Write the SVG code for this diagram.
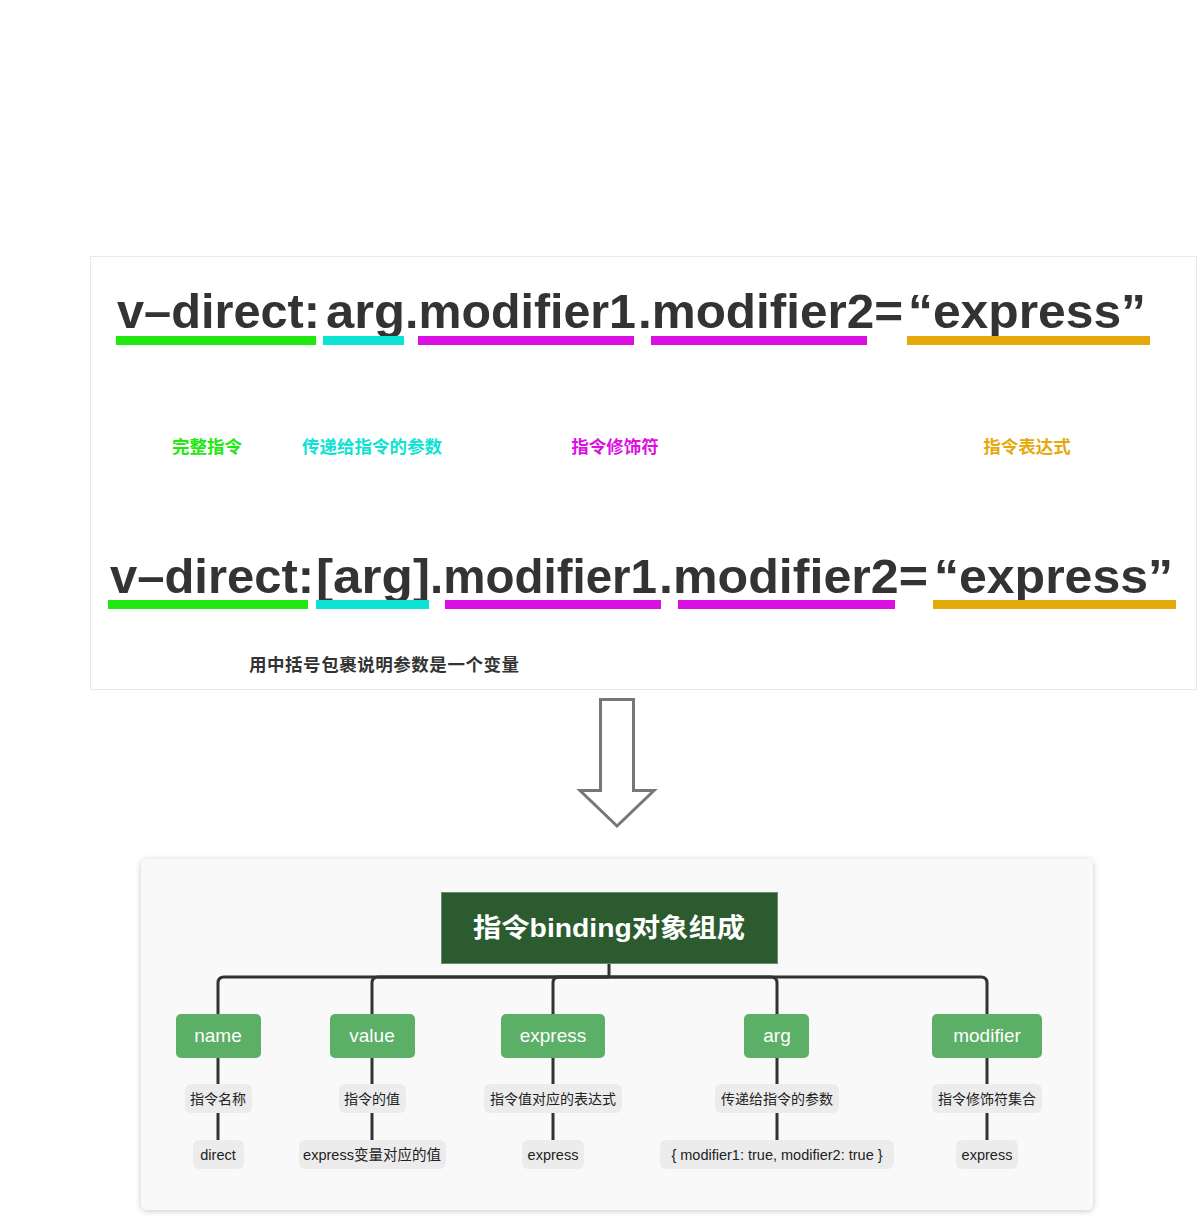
<svg xmlns="http://www.w3.org/2000/svg" width="1197" height="1228" viewBox="0 0 1197 1228">
<defs>
<style>
.code{font-family:"Liberation Sans","Noto Sans CJK SC",sans-serif;font-size:49px;font-weight:bold;fill:#333333;}
.lbl{font-family:"Liberation Sans","Noto Sans CJK SC",sans-serif;font-size:17.5px;font-weight:bold;text-anchor:middle;}
.g{fill:#22e812;}.c{fill:#0de3d3;}.m{fill:#da0fe3;}.o{fill:#e6a90c;}
.note{font-family:"Liberation Sans","Noto Sans CJK SC",sans-serif;font-size:17.5px;font-weight:bold;fill:#333333;}
.conn{fill:none;stroke:#333333;stroke-width:3;}
.child rect{fill:#5caf67;}
.child text{font-family:"Liberation Sans","Noto Sans CJK SC",sans-serif;font-size:19px;fill:#ffffff;text-anchor:middle;}
.tag rect{fill:#ececec;}
.tag text{font-family:"Liberation Sans","Noto Sans CJK SC",sans-serif;font-size:14px;fill:#222222;text-anchor:middle;}
.tag text.lat{font-size:14.5px;}
</style>
<filter id="sh" x="-5%" y="-5%" width="110%" height="115%">
<feDropShadow dx="0" dy="1" stdDeviation="3" flood-color="#000" flood-opacity="0.22"/>
</filter>
</defs>
<rect width="1197" height="1228" fill="#ffffff"/>

<!-- top panel -->
<rect x="90.5" y="256.5" width="1106" height="433" fill="#ffffff" stroke="#e9e9e9" stroke-width="1"/>

<g id="line1">
<text class="code" x="117" y="328" textLength="203" lengthAdjust="spacingAndGlyphs">v–direct:</text>
<text class="code" x="326" y="328" textLength="79" lengthAdjust="spacingAndGlyphs">arg</text>
<text class="code" x="405" y="328" textLength="231" lengthAdjust="spacingAndGlyphs">.modifier1</text>
<text class="code" x="638" y="328" textLength="265" lengthAdjust="spacingAndGlyphs">.modifier2=</text>
<text class="code" x="908" y="328" textLength="238" lengthAdjust="spacingAndGlyphs">“express”</text>
<rect class="g" x="116" y="336" width="200" height="9"/>
<rect class="c" x="323" y="336" width="81" height="9"/>
<rect class="m" x="418" y="336" width="216" height="9"/>
<rect class="m" x="651" y="336" width="216" height="9"/>
<rect class="o" x="907" y="336" width="243" height="9"/>
</g>

<g id="labels">
<text class="lbl g" x="207" y="453">完整指令</text>
<text class="lbl c" x="372" y="453">传递给指令的参数</text>
<text class="lbl m" x="615" y="453">指令修饰符</text>
<text class="lbl o" x="1027" y="453">指令表达式</text>
</g>

<g id="line2">
<text class="code" x="110" y="593" textLength="204" lengthAdjust="spacingAndGlyphs">v–direct:</text>
<text class="code" x="316" y="593" textLength="114" lengthAdjust="spacingAndGlyphs">[arg]</text>
<text class="code" x="430" y="593" textLength="227" lengthAdjust="spacingAndGlyphs">.modifier1</text>
<text class="code" x="659" y="593" textLength="269" lengthAdjust="spacingAndGlyphs">.modifier2=</text>
<text class="code" x="934" y="593" textLength="239" lengthAdjust="spacingAndGlyphs">“express”</text>
<rect class="g" x="108" y="600" width="200" height="9"/>
<rect class="c" x="316" y="600" width="113" height="9"/>
<rect class="m" x="445" y="600" width="216" height="9"/>
<rect class="m" x="678" y="600" width="217" height="9"/>
<rect class="o" x="933" y="600" width="243" height="9"/>
<text class="note" x="249" y="671" textLength="270" lengthAdjust="spacing">用中括号包裹说明参数是一个变量</text>
</g>

<!-- arrow -->
<g id="arrow">
<path d="M600.5,699.5 H633.5 V790.5 H654 L617,826 L580,790.5 H600.5 Z" fill="#ffffff" stroke="#777777" stroke-width="3" stroke-linejoin="miter"/>
</g>

<!-- bottom panel -->
<rect x="141" y="859" width="952" height="351" rx="6" fill="#f9f9f9" filter="url(#sh)"/>

<g id="connectors">
<path class="conn" d="M609,963 V977"/>
<path class="conn" d="M609,977 H224 Q218,977 218,983 V1014"/>
<path class="conn" d="M609,977 H378 Q372,977 372,983 V1014"/>
<path class="conn" d="M609,977 H559 Q553,977 553,983 V1014"/>
<path class="conn" d="M609,977 H771 Q777,977 777,983 V1014"/>
<path class="conn" d="M609,977 H981 Q987,977 987,983 V1014"/>
<path class="conn" d="M218,1058 V1084 M218,1113 V1140"/>
<path class="conn" d="M372,1058 V1084 M372,1113 V1140"/>
<path class="conn" d="M553,1058 V1084 M553,1113 V1140"/>
<path class="conn" d="M777,1058 V1084 M777,1113 V1140"/>
<path class="conn" d="M987,1058 V1084 M987,1113 V1140"/>
</g>

<g id="root">
<rect x="441.5" y="892.5" width="336" height="71" fill="#2c5b2f" stroke="#6e8a70" stroke-width="1"/>
<text x="473" y="937" font-family="'Liberation Sans','Noto Sans CJK SC',sans-serif" font-size="26.5" font-weight="bold" fill="#ffffff" textLength="272" lengthAdjust="spacingAndGlyphs">指令binding对象组成</text>
</g>

<g id="n-name" class="child"><rect x="176" y="1014" width="85" height="44" rx="5"/><text x="218" y="1042">name</text></g>
<g id="n-value" class="child"><rect x="330" y="1014" width="85" height="44" rx="5"/><text x="372" y="1042">value</text></g>
<g id="n-express" class="child"><rect x="501" y="1014" width="104" height="44" rx="5"/><text x="553" y="1042">express</text></g>
<g id="n-arg" class="child"><rect x="744" y="1014" width="65" height="44" rx="5"/><text x="777" y="1042">arg</text></g>
<g id="n-modifier" class="child"><rect x="932" y="1014" width="110" height="44" rx="5"/><text x="987" y="1042">modifier</text></g>

<g id="t-name" class="tag"><rect x="185" y="1084" width="67" height="29" rx="6"/><text x="218" y="1103.5">指令名称</text></g>
<g id="t-value" class="tag"><rect x="339" y="1084" width="67" height="29" rx="6"/><text x="372" y="1103.5">指令的值</text></g>
<g id="t-express" class="tag"><rect x="484" y="1084" width="138" height="29" rx="6"/><text x="553" y="1103.5">指令值对应的表达式</text></g>
<g id="t-arg" class="tag"><rect x="715" y="1084" width="124" height="29" rx="6"/><text x="777" y="1103.5">传递给指令的参数</text></g>
<g id="t-modifier" class="tag"><rect x="932" y="1084" width="110" height="29" rx="6"/><text x="987" y="1103.5">指令修饰符集合</text></g>

<g id="l-name" class="tag"><rect x="193" y="1140" width="51" height="29" rx="6"/><text class="lat" x="218" y="1160">direct</text></g>
<g id="l-value" class="tag"><rect x="299" y="1140" width="147" height="29" rx="6"/><text class="lat" x="372" y="1160">express变量对应的值</text></g>
<g id="l-express" class="tag"><rect x="522" y="1140" width="62" height="29" rx="6"/><text class="lat" x="553" y="1160">express</text></g>
<g id="l-arg" class="tag"><rect x="660" y="1140" width="234" height="29" rx="6"/><text class="lat" x="777" y="1160">{ modifier1: true, modifier2: true }</text></g>
<g id="l-modifier" class="tag"><rect x="956" y="1140" width="62" height="29" rx="6"/><text class="lat" x="987" y="1160">express</text></g>
</svg>
